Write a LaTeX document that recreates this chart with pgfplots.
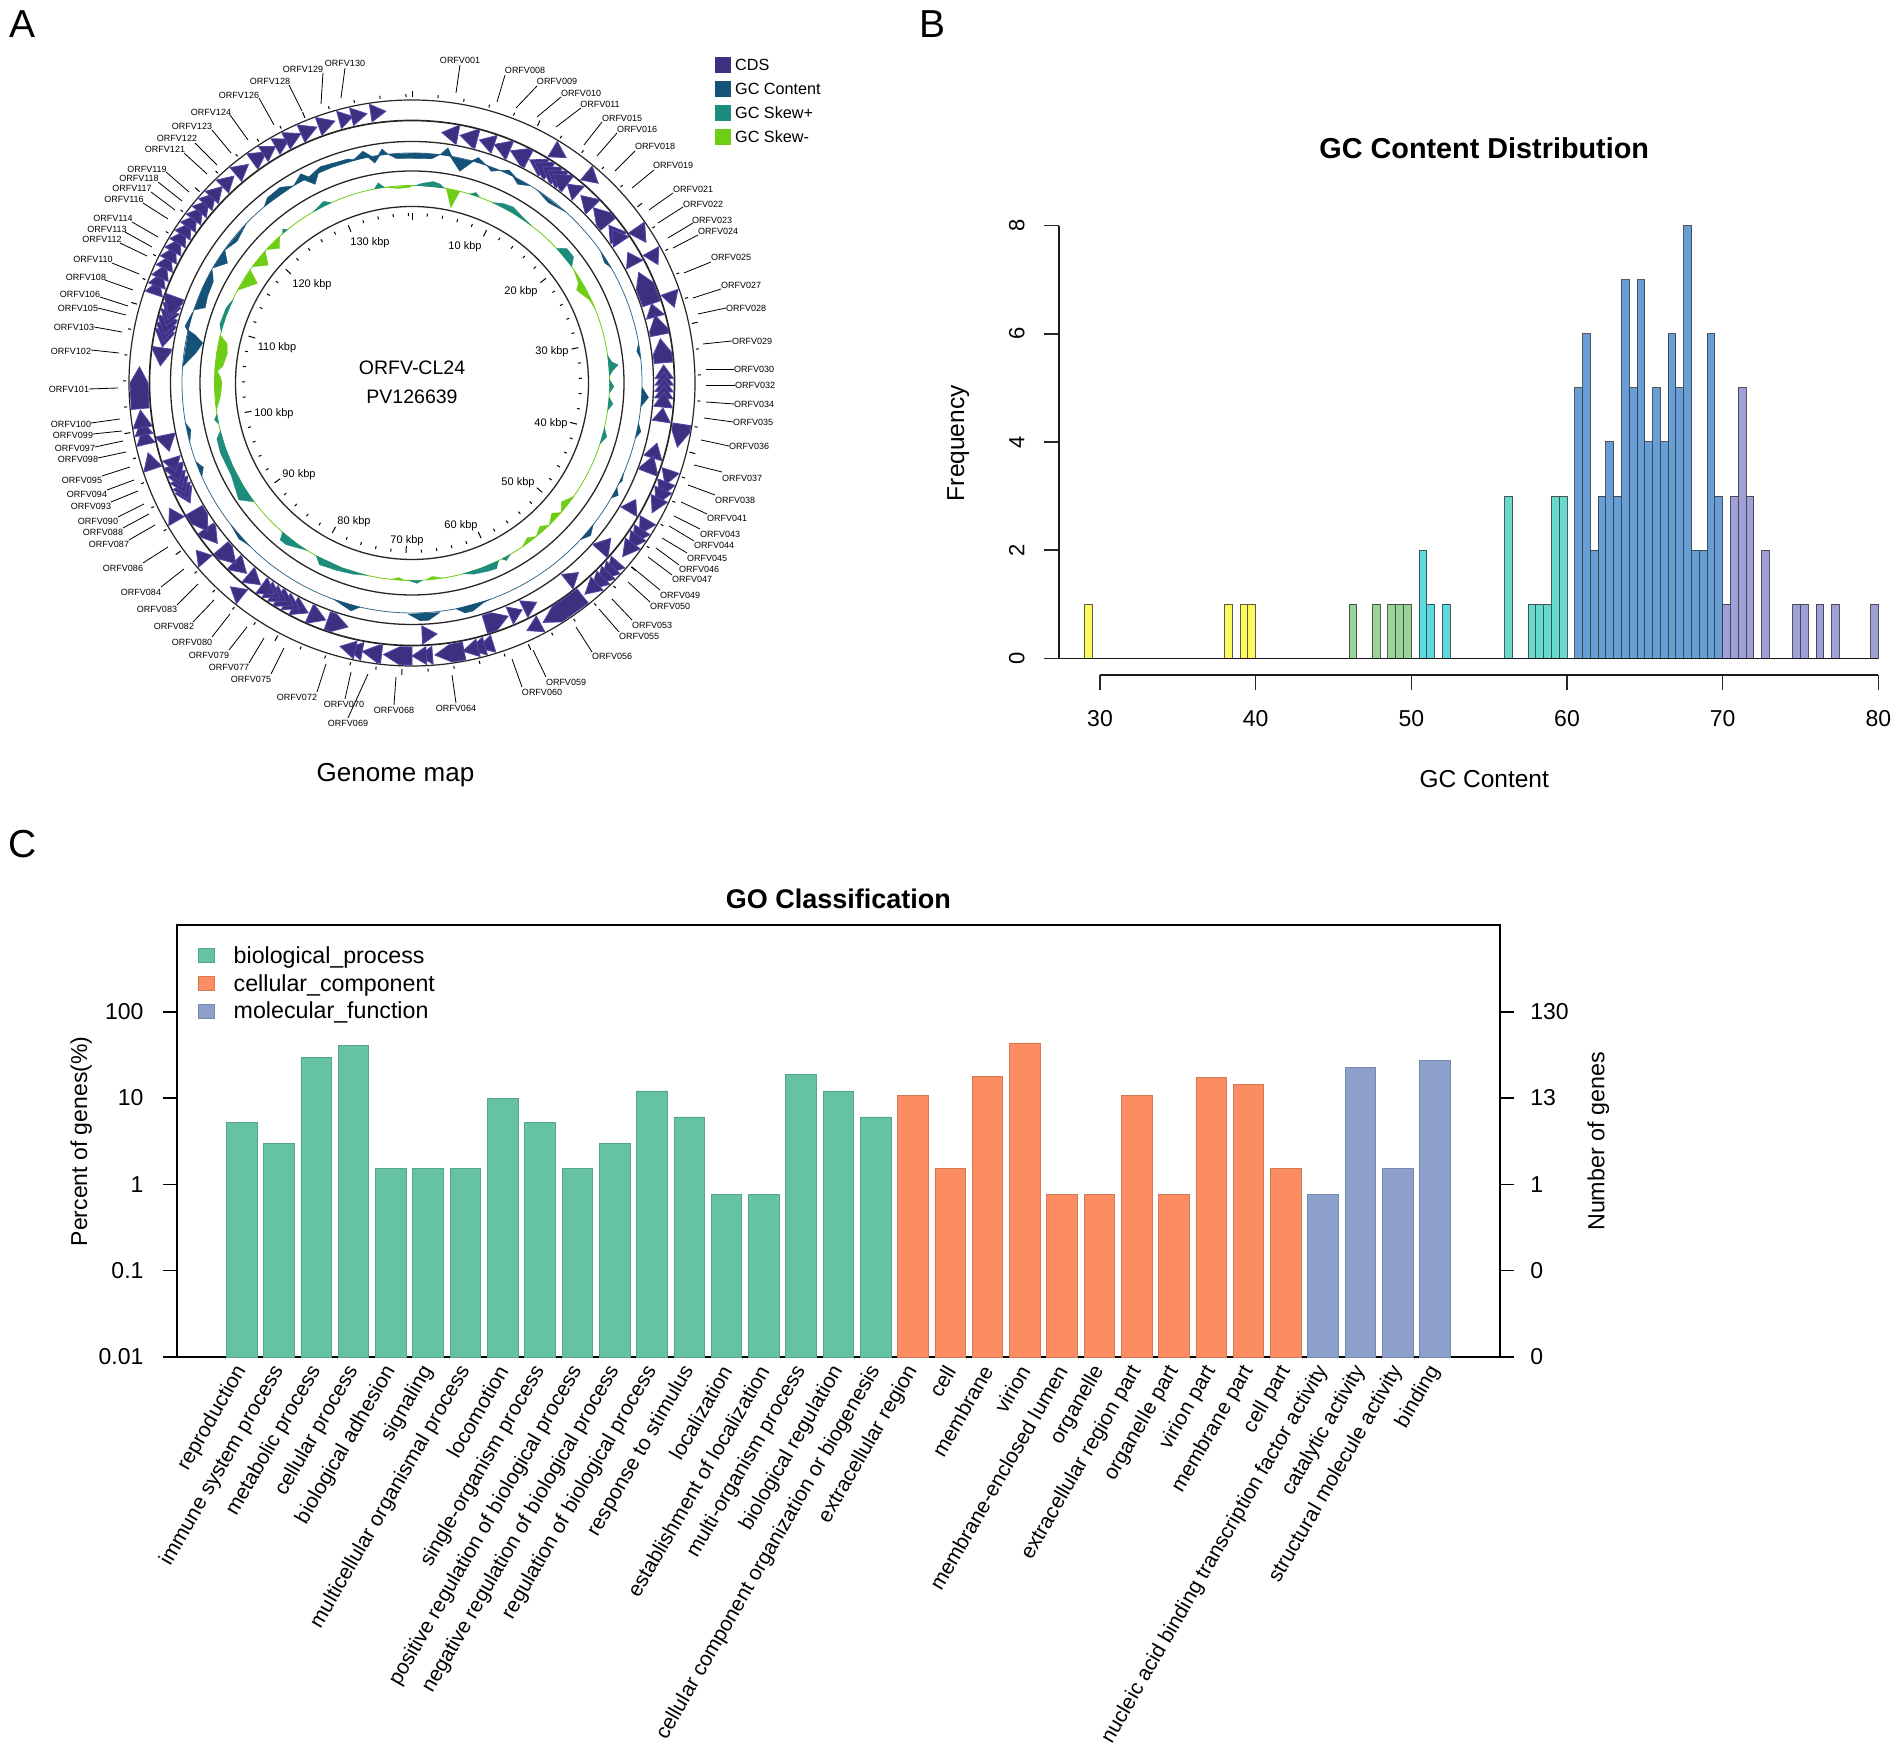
\documentclass[border=0pt]{standalone}
\usepackage{fontspec}
\setmainfont{Liberation Sans}
\usepackage{pgfplots}
\pgfplotsset{compat=1.18}
\newcommand\fs[1]{\fontsize{#1}{#1}\selectfont}

\definecolor{cds}{RGB}{62,48,128}
\definecolor{cdsedge}{RGB}{85,72,170}
\definecolor{gcc}{RGB}{21,82,120}
\definecolor{skewp}{RGB}{30,140,125}
\definecolor{skewm}{RGB}{110,205,20}
\definecolor{hyellow}{RGB}{253,250,95}
\definecolor{hgreen}{RGB}{152,212,152}
\definecolor{hcyan}{RGB}{92,218,224}
\definecolor{hteal}{RGB}{102,218,205}
\definecolor{hblue}{RGB}{104,158,214}
\definecolor{hpurple}{RGB}{160,160,216}
\definecolor{bpgreen}{RGB}{102,194,165}
\definecolor{ccorange}{RGB}{252,141,98}
\definecolor{mfblue}{RGB}{141,160,203}

% one CDS arrow: start angle, tip angle (deg clockwise from top), inner and outer radius
\newcommand\cds[4]{%
  \pgfmathsetmacro\hh{#2+(#1<#2?-1:1)*min(abs(#2-#1),3.4)}%
  \pgfmathsetmacro\ta{90-#1}\pgfmathsetmacro\tb{90-#2}\pgfmathsetmacro\tc{90-\hh}%
  \pgfmathsetmacro\rm{(#3+#4)/2}%
  \addplot[fill=cds,draw=cdsedge,line width=0.8pt,forget plot] coordinates
    {(\ta,#3)(\ta,#4)(\tc,#4)(\tb,\rm)(\tc,#3)} -- cycle;}
% one filled piece of a GC track: rows of angle and radius
\newcommand\track[2]{\addplot[fill=#1,draw=#1,line width=0.3pt,forget plot]
  table[x expr=90-\thisrowno{0},y expr=\thisrowno{1},row sep=\\,header=false]{#2};}
% gene label with its leader line
\newcommand\orf[7]{\node[font=\fs{9}] at (#2,#3) {ORFV#1};\draw[line width=0.8pt] (#4,#5)--(#6,#7);}

\begin{document}
\begin{tikzpicture}
\path[use as bounding box] (0,0) rectangle (1902pt,1756pt);

% ---------- A: rings and scale
\begin{scope}[shift={(412pt,1373pt)}]
\foreach \r/\w in {283/1.2,262.5/1.7,241.5/1.3,212/1.3,176.5/1.3}
  \draw[line width=\w pt,black!85] (0,0) circle (\r pt);
\draw[line width=0.8pt,skewm] (0,0) circle (197.5pt);
\draw[line width=0.8pt,gcc!85] (0,0) circle (230pt);
\foreach \k in {0,2,...,138}{
  \pgfmathsetmacro\d{\k*2.6}
  \pgfmathtruncatemacro\mj{mod(\k,10)==0}
  \ifnum\mj=1
    \draw[line width=1pt] (\d:0pt) ++(90-\d:170pt) -- ++(90-\d:-7pt);
    \draw[line width=1pt] (\d:0pt) ++(90-\d:286pt) -- ++(90-\d:6pt);
  \else
    \draw[line width=1pt] (\d:0pt) ++(90-\d:170pt) -- ++(90-\d:-3pt);
    \draw[line width=1pt] (\d:0pt) ++(90-\d:286pt) -- ++(90-\d:3pt);
  \fi}
\end{scope}

\begin{axis}[at={(0pt,956pt)},anchor=south west,scale only axis,width=900pt,height=800pt,
  xmin=-412,xmax=488,ymin=-417,ymax=383,hide axis,clip=false,data cs=polar]
% outer ring CDS, clockwise ones
\foreach \a/\b in {31/34.4,39.7/43,55.3/59,61.1/64.3,70.6/73.9,98.7/103.6,108.7/112,
  111.3/114.8,113/116.5,115/118.4,120.2/123.6,122.5/126,124/127.5,126/129.5,
  131/134.4,132.5/136,134/137.5,135.5/139,137.3/140.7,141.3/151.3,151.9/155.1,
  162.7/166,164.5/168,166/169.3,169/175.2,175.7/178.5,177/180,180/186,186.4/190.5,
  190.5/193.8,192/195.3,218.5/221.7,229.2/232.2,239.6/242.7,251.6/255.2,
  257/260.5,259/262.3,260.6/264.3,264.6/273.4,
  289/292.2,290.8/294,292.6/295.8,294.8/298,296.8/300,298.8/302,300.8/304,302.8/306,
  304.8/308,306.8/310,308.8/312,310.8/314,312.8/316,316/319.3,
  319.8/323.2,324.2/327.8,327/330,330/333.3,332.5/336,336/339.6,340/343.6,
  344.5/347.5,347.2/350.5,351.3/354.5}
  {\cds{\a}{\b}{264}{282}}
% inner ring CDS
\foreach \a/\b in {10.5/6.8,15/11,19/15.5,22.8/19,27.5/23,31.5/27.8,33/29,35/31,36.5/32.5,
  38/34,41.2/38,45.8/42,51/46,55/51.3,56/52.5,62/58.8,71.7/64,74.8/71.7,79/74.5,85.4/79.9,
  89/85.9,90.5/87.5,92/89,93.5/90.5,95.5/92,98.8/95.7,107.3/103.8,110.8/106.8,120.7/117.5,
  131.8/128,142/138.7,153.7/150.4,157.2/154.1,163.2/157.6,177.7/174.3,199.6/194.7,
  204/200,208/204.3,210/206.5,212/208,213.5/210,215/211.5,216.6/213,220.5/216.9,224.8/221,
  229.2/224.3,234.8/230.5,239.7/234,245/241.6,246/242.5,247.5/244,249/245.5,251/247,252.6/249.4,
  258.1/254.3,278/273.9,282/278.2,283.5/279.5,285/281,286.5/283,288/284.5,290/285.5}
  {\cds{\a}{\b}{243}{261.5}}
% GC content track
\track{gcc}{354 230\\356 225\\0 224.5\\5 225\\7 230\\0.5 230\\}
\track{gcc}{345 230\\348 237\\350 230\\}
\track{gcc}{349 230\\350.4 223\\352 230\\}
\track{gcc}{351.5 230\\352.7 236\\354 230\\}
\track{gcc}{7 230\\8.7 238\\10 230\\}
\track{gcc}{9.5 230\\12.7 217\\15.5 230\\}
\track{gcc}{15 230\\16.4 235\\19 230\\}
\track{gcc}{19 230\\20.5 226\\22.5 230\\}
\track{gcc}{22.5 230\\24.5 234\\27 230\\}
\track{gcc}{26 230\\28 225\\31 230\\}
\track{gcc}{33 230\\37 226\\42 230\\}
\track{gcc}{55 230\\58 227\\60 230\\}
\track{gcc}{80 230\\82 227\\84 230\\}
\track{gcc}{91 230\\93.5 237\\96 230\\}
\track{gcc}{100 230\\102 234\\104 230\\}
\track{gcc}{113 230\\115 232\\116 230\\}
\track{gcc}{117 230\\118.6 235\\120 230\\}
\track{gcc}{128 230\\130.5 235\\133 230\\}
\track{gcc}{160 230\\162 231\\165 236\\167 236\\169 230\\}
\track{gcc}{173 231\\176 238\\178 238\\181 231\\}
\track{gcc}{193 230\\195 236\\199 231\\200 230\\}
\track{gcc}{225 230\\228 233\\232 230\\}
\track{gcc}{246 230\\248 225\\250 230\\}
\track{gcc}{255 230\\258 226\\260 230\\}
\track{gcc}{274 230\\278 218\\279 216\\280.8 213\\282.5 222\\283.3 230\\}
\track{gcc}{283 230\\284 234\\287.5 231\\288 230\\}
\track{gcc}{288.5 230\\290 220\\293 222\\297 223\\299 228\\299.5 230\\294 230\\}
\track{gcc}{300 230\\303 220\\305.5 230\\}
\track{gcc}{305 230\\309 225\\314 230\\}
\track{gcc}{320 230\\322 235\\326 236\\329 230\\}
\track{gcc}{329 230\\332 237\\333.5 230\\}
\track{gcc}{332 230\\334 221\\336 230\\}
\track{gcc}{333 230\\337 235\\344 233\\346 230\\340 230\\}
% GC skew, outward part
\track{skewp}{1 197.5\\3 200\\6 202.5\\8 201\\9.5 197.5\\}
\track{skewp}{17 197.5\\18.6 201\\20 197.5\\}
\track{skewp}{24 197.5\\27 201.5\\30 203\\33 200\\37 197.5\\31 197.5\\}
\track{skewp}{47 197.5\\49 205\\52 205\\54 197.5\\}
\track{skewp}{82 197.5\\84 201\\85 207\\86.5 201\\88 197.5\\}
\track{skewp}{89 197.5\\91 202\\93 197.5\\}
\track{skewp}{94 197.5\\96 202\\98 197.5\\}
\track{skewp}{103 197.5\\105.5 202\\108 197.5\\}
\track{skewp}{150 197.5\\152 201\\153 197.5\\}
\track{skewp}{154 197.5\\155.5 204\\158 203\\162 201\\165 197.5\\160 197.5\\}
\track{skewp}{177 197.5\\178.5 200.5\\181 197.5\\}
\track{skewp}{193 197.5\\197 200\\202 202\\207 204\\209 197.5\\201 197.5\\}
\track{skewp}{212 197.5\\215 201\\218 205\\220 205\\221 197.5\\216 197.5\\}
\track{skewp}{233 197.5\\236 209\\239 206\\243 203\\250 204\\254 203\\256 197.5\\251 197.5\\245 197.5\\239 197.5\\}
\track{skewp}{258 197.5\\259.4 201\\261 197.5\\}
\track{skewp}{285 197.5\\287 201\\292 200.5\\295 197.5\\290 197.5\\}
\track{skewp}{319 197.5\\320 201\\321 197.5\\}
\track{skewp}{330 197.5\\334 202\\336 197.5\\}
\track{skewp}{349 197.5\\350.4 203\\352 197.5\\}
% GC skew, inward part
\track{skewm}{10 197.5\\12.5 179.5\\14 197.5\\}
\track{skewm}{55 197.5\\59 194\\60.5 189\\62 191\\65 196\\68 197.5\\61 197.5\\}
\track{skewm}{125 197.5\\128.5 191\\131 197.5\\}
\track{skewm}{131 197.5\\133 191\\136 197.5\\}
\track{skewm}{136 197.5\\138.3 192\\141 197.5\\}
\track{skewm}{141 197.5\\143.4 193\\146 197.5\\}
\track{skewm}{171 197.5\\174 194.5\\176 197.5\\}
\track{skewm}{182 197.5\\184 195\\186 197.5\\}
\track{skewm}{262 197.5\\266 192\\270 190\\272 192\\273.5 195\\275 190\\279 187\\282 189\\284 197.5\\279 197.5\\274 197.5\\268 197.5\\}
\track{skewm}{298 197.5\\302.8 184\\305 197.5\\}
\track{skewm}{306 197.5\\309.3 186\\312 197.5\\}
\track{skewm}{312.5 197.5\\315.4 189\\318 197.5\\}
\track{skewm}{352 197.5\\356 195\\359 195.5\\0.5 197.5\\}
\end{axis}

% ---------- A: texts, in picture pixels
\begin{scope}[x=1pt,y=-1pt,shift={(0,1756pt)}]
\node[font=\fs{39}] at (23,24) {A};
\node[font=\fs{39}] at (932,24) {B};
\node[font=\fs{39}] at (23,844) {C};
\node[font=\fs{19.5}] at (412,368) {ORFV-CL24};
\node[font=\fs{19.5}] at (412,397) {PV126639};
\node[font=\fs{26}] at (395.5,775.5) {Genome map};
\foreach \t/\x/\y in {10/465/247,20/521/292,30/552/352,40/551/424,50/518/483,60/461/526,70/407/541,
  80/354/522,90/299/475,100/274/414,110/277/348,120/312/285,130/370/243}
  \node[font=\fs{11}] at (\x,\y) {\t\ kbp};
\foreach \c/\t/\y in {cds/CDS/65,gcc/GC Content/89,skewp/GC Skew+/113,skewm/GC Skew-/137}{
  \fill[\c] (715,\y-8) rectangle (731,\y+8);
  \node[font=\fs{16.2},anchor=west,inner sep=0pt] at (735,\y) {\t};}
\orf{001}{460}{60}{460}{65}{456}{93}
\orf{008}{525}{70}{505}{75}{497}{102}
\orf{009}{557}{81}{537}{86}{516}{108}
\orf{010}{581}{93}{561}{97}{537}{117}
\orf{011}{600}{104}{581}{108}{556}{127}
\orf{015}{622}{118}{602}{122}{584}{145}
\orf{016}{637}{129}{617}{133}{597}{156}
\orf{018}{655}{146}{635}{151}{615}{171}
\orf{019}{673}{165}{654}{170}{632}{188}
\orf{021}{693}{189}{673}{193}{649}{210}
\orf{022}{703}{204}{683}{207}{658}{223}
\orf{023}{712}{220}{693}{223}{668}{238}
\orf{024}{718}{231}{698}{235}{673}{248}
\orf{025}{731}{257}{711}{262}{684}{273}
\orf{027}{741}{285}{721}{289}{693}{298}
\orf{028}{746}{308}{726}{308}{698}{314}
\orf{029}{752}{341}{732}{341}{703}{344}
\orf{030}{754}{369}{734}{369}{706}{369}
\orf{032}{755}{385}{735}{385}{706}{385}
\orf{034}{754}{404}{734}{404}{706}{402}
\orf{035}{753}{422}{733}{422}{704}{418}
\orf{036}{749}{446}{729}{446}{701}{440}
\orf{037}{742}{478}{722}{472}{694}{465}
\orf{038}{735}{500}{715}{495}{688}{485}
\orf{041}{727}{518}{707}{514}{681}{502}
\orf{043}{720}{534}{700}{529}{674}{516}
\orf{044}{714}{545}{694}{541}{669}{526}
\orf{045}{707}{558}{687}{553}{662}{538}
\orf{046}{699}{569}{679}{565}{656}{548}
\orf{047}{692}{579}{672}{575}{648}{557}
\orf{049}{680}{595}{660}{590}{632}{567}
\orf{050}{670}{606}{650}{602}{628}{582}
\orf{053}{652}{625}{632}{620}{612}{599}
\orf{055}{639}{636}{619}{632}{599}{609}
\orf{056}{612}{656}{592}{652}{576}{627}
\orf{059}{566}{682}{546}{677}{533}{650}
\orf{060}{542}{692}{522}{687}{512}{659}
\orf{064}{456}{708}{456}{703}{452}{675}
\orf{068}{394}{710}{394}{705}{396}{677}
\orf{069}{348}{723}{348}{718}{368}{674}
\orf{070}{344}{704}{345}{699}{351}{672}
\orf{072}{297}{697}{317}{692}{326}{664}
\orf{075}{251}{679}{271}{674}{284}{648}
\orf{077}{229}{667}{249}{663}{264}{638}
\orf{079}{209}{655}{229}{650}{247}{627}
\orf{080}{192}{642}{212}{637}{230}{614}
\orf{082}{174}{626}{193}{622}{214}{600}
\orf{083}{157}{609}{177}{605}{198}{584}
\orf{084}{141}{592}{161}{587}{184}{569}
\orf{086}{123}{568}{143}{563}{168}{547}
\orf{087}{109}{544}{129}{540}{155}{525}
\orf{088}{103}{532}{123}{528}{149}{514}
\orf{090}{98}{521}{118}{517}{144}{504}
\orf{093}{91}{506}{111}{502}{138}{491}
\orf{094}{87}{494}{107}{490}{134}{480}
\orf{095}{82}{480}{102}{476}{130}{467}
\orf{098}{78}{459}{98}{458}{126}{452}
\orf{097}{75}{448}{95}{447}{123}{441}
\orf{099}{73}{435}{93}{434}{122}{431}
\orf{100}{71}{424}{91}{423}{120}{419}
\orf{101}{69}{389}{89}{389}{118}{388}
\orf{102}{71}{351}{91}{350}{119}{353}
\orf{103}{74}{327}{94}{327}{122}{332}
\orf{105}{78}{308}{98}{308}{126}{315}
\orf{106}{80}{294}{100}{297}{128}{306}
\orf{108}{86}{277}{105}{280}{133}{290}
\orf{110}{93}{259}{112}{263}{139}{274}
\orf{112}{102}{239}{120}{243}{147}{256}
\orf{113}{107}{229}{125}{232}{152}{247}
\orf{114}{113}{218}{132}{222}{158}{237}
\orf{116}{124}{199}{143}{203}{168}{219}
\orf{117}{132}{188}{151}{192}{175}{210}
\orf{118}{139}{178}{158}{182}{182}{201}
\orf{119}{147}{169}{166}{172}{189}{192}
\orf{121}{165}{149}{184}{153}{207}{174}
\orf{122}{177}{138}{195}{143}{217}{165}
\orf{123}{192}{126}{212}{130}{231}{153}
\orf{124}{211}{112}{230}{115}{248}{140}
\orf{126}{239}{95}{259}{98}{274}{125}
\orf{128}{270}{81}{289}{85}{302}{111}
\orf{129}{303}{69}{323}{73}{321}{104}
\orf{130}{345}{63}{345}{68}{341}{98}
\end{scope}

% ---------- B: histogram
\begin{axis}[at={(1059pt,1081pt)},anchor=south west,scale only axis,width=819.3pt,height=449.3pt,
  xmin=27.366,xmax=80,ymin=-0.309,ymax=8,clip=false,
  axis lines*=left,axis line style={draw=none},
  ybar,bar width=0.5,bar shift=0pt,
  xtick={30,40,50,60,70,80},ytick={0,2,4,6,8},
  tick align=outside,major tick length=15pt,
  tick style={line width=1.5pt,black!85},
  /pgf/number format/assume math mode=true,
  xticklabel style={font=\fs{23},yshift=-17pt},
  yticklabel style={font=\fs{22},rotate=90,anchor=south,yshift=16pt},
  title={\bfseries GC Content Distribution},
  title style={font=\fs{28.8},at={(0.519,1.159)},anchor=center},
  xlabel={GC Content},xlabel style={font=\fs{24.5},at={(0.519,-0.232)},anchor=center},
  ylabel={Frequency},ylabel style={font=\fs{24.5},at={(-0.123,0.516)},anchor=center},
  every axis plot/.append style={draw=black!80,draw opacity=0.8,line width=1pt}]
\addplot[fill=hyellow] coordinates {(29.25,1)(38.25,1)(39.25,1)(39.75,1)};
\addplot[fill=hgreen] coordinates {(46.25,1)(47.75,1)(48.75,1)(49.25,1)(49.75,1)};
\addplot[fill=hcyan] coordinates {(50.75,2)(51.25,1)(52.25,1)};
\addplot[fill=hteal] coordinates {(56.25,3)(57.75,1)(58.25,1)(58.75,1)(59.25,3)(59.75,3)};
\addplot[fill=hblue] coordinates {(60.75,5)(61.25,6)(61.75,2)(62.25,3)(62.75,4)(63.25,3)(63.75,7)
  (64.25,5)(64.75,7)(65.25,4)(65.75,5)(66.25,4)(66.75,6)(67.25,5)(67.75,8)(68.25,2)(68.75,2)
  (69.25,6)(69.75,3)};
\addplot[fill=hpurple] coordinates {(70.25,1)(70.75,3)(71.25,5)(71.75,3)(72.75,2)(74.75,1)(75.25,1)
  (76.25,1)(77.25,1)(79.75,1)};
\addplot[sharp plot,black!90,line width=1.5pt,draw opacity=1] coordinates {(27.366,0)(80,0)};
\addplot[sharp plot,black!90,line width=1.5pt,draw opacity=1] coordinates {(27.366,0)(27.366,8)};
\addplot[sharp plot,black!90,line width=1.5pt,draw opacity=1] coordinates {(30,-0.309)(80,-0.309)};
\end{axis}

% ---------- C: GO bars
\begin{axis}[at={(177pt,399pt)},anchor=south west,scale only axis,width=1322.7pt,height=432pt,
  ymode=log,log origin=infty,ymin=0.01,ymax=1012,xmin=-1.735,xmax=33.735,
  ybar,bar width=0.82,bar shift=0pt,axis line style={line width=1.7pt},
  ytick={0.01,0.1,1,10,100},yticklabels={0.01,0.1,1,10,100},ytick pos=left,
  yminorticks=false,tick align=outside,major tick length=14pt,
  y tick style={line width=1.5pt,black},x tick style={draw=none},
  yticklabel style={font=\fs{23},xshift=-16pt},
  xtick={0,...,32},
  xticklabels={reproduction,immune system process,metabolic process,cellular process,biological adhesion,
    signaling,multicellular organismal process,locomotion,single-organism process,
    positive regulation of biological process,negative regulation of biological process,
    regulation of biological process,response to stimulus,localization,establishment of localization,
    multi-organism process,biological regulation,cellular component organization or biogenesis,
    extracellular region,cell,membrane,virion,membrane-enclosed lumen,organelle,extracellular region part,
    organelle part,virion part,membrane part,cell part,nucleic acid binding transcription factor activity,
    catalytic activity,structural molecule activity,binding},
  xticklabel style={font=\fs{21},rotate=60,anchor=east,inner sep=2pt,xshift=5pt,yshift=1.7pt},
  title={\bfseries GO Classification},
  title style={font=\fs{27},at={(0.5,1.0474)},anchor=center},
  ylabel={Percent of genes(\%)},ylabel style={font=\fs{23},at={(-0.0725,0.499)},anchor=center},
  legend style={at={(0.0137,0.96)},anchor=north west,draw=none,fill=none,font=\fs{23.2},
    row sep=5.5pt,legend cell align=left},
  legend image code/.code={\fill[#1] (0pt,-7pt) rectangle (16pt,7pt);\path[draw=none,fill=none] (0pt,0pt) rectangle (33pt,0.1pt);},
  ]
\addplot[fill=bpgreen,draw=bpgreen!85!black,line width=0.8pt] coordinates {(0,5.28)(1,3.01)(2,29.4)(3,40.9)(4,1.52)
  (5,1.52)(6,1.52)(7,9.85)(8,5.28)(9,1.52)(10,3.01)(11,12.1)(12,6.04)(13,0.76)(14,0.76)(15,18.9)(16,12.1)(17,6.04)};
\addlegendentry{biological\_process}
\addplot[fill=ccorange,draw=ccorange!85!black,line width=0.8pt] coordinates {(18,10.6)(19,1.52)(20,18.0)(21,43.5)(22,0.76)
  (23,0.76)(24,10.6)(25,0.76)(26,17.3)(27,14.4)(28,1.52)};
\addlegendentry{cellular\_component}
\addplot[fill=mfblue,draw=mfblue!85!black,line width=0.8pt] coordinates {(29,0.76)(30,22.7)(31,1.52)(32,27.2)};
\addlegendentry{molecular\_function}
\end{axis}
\begin{axis}[at={(177pt,399pt)},anchor=south west,scale only axis,width=1322.7pt,height=432pt,
  ymode=log,ymin=0.01,ymax=1012,xmin=-1.735,xmax=33.735,
  axis x line=none,axis y line*=right,axis line style={line width=1.7pt},
  ytick={0.01,0.1,1,10,100},yticklabels={0,0,1,13,130},yminorticks=false,
  tick align=outside,major tick length=14pt,y tick style={line width=1.5pt,black},
  yticklabel style={font=\fs{23},xshift=13pt},
  ylabel={Number of genes},ylabel style={font=\fs{23.3},at={(1.0745,0.499)},anchor=center}]
\addplot[draw=none,forget plot] coordinates {(0,1)(32,1)};
\end{axis}
\end{tikzpicture}
\end{document}
